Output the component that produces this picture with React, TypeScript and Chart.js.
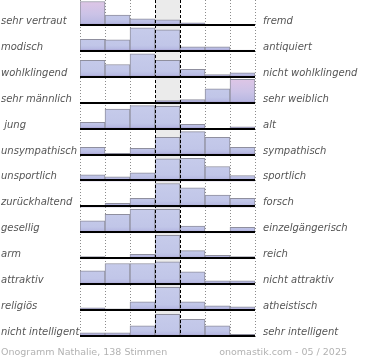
import React, { useEffect, useRef } from 'react';
import { Chart, registerables } from 'chart.js';

Chart.register(...registerables);

const bins = ['1', '2', '3', '4', '5', '6', '7'];

const leftLabels = [
  'sehr vertraut', 'modisch', 'wohlklingend', 'sehr männlich', ' jung', 'unsympathisch',
  'unsportlich', 'zurückhaltend', 'gesellig', 'arm', 'attraktiv', 'religiös', 'nicht intelligent',
];
const rightLabels = [
  'fremd', 'antiquiert', 'nicht wohlklingend', 'sehr weiblich', 'alt', 'sympathisch',
  'sportlich', 'forsch', 'einzelgängerisch', 'reich', 'nicht attraktiv', 'atheistisch', 'sehr intelligent',
];

const row01 = [30, 11, 7, 6, 3, 0, 0];
const row02 = [12.5, 12, 24, 22, 5, 5, 1.7];
const row03 = [17.5, 13.3, 24, 17.6, 8.5, 3.2, 5];
const row04 = [0, 0, 0, 3, 4, 15, 28];
const row05 = [7.3, 20.7, 24, 23.3, 5.3, 0.8, 2.7];
const row06 = [8.3, 2.3, 7.3, 18.3, 24, 18.3, 8.3];
const row07 = [6.7, 4.7, 8.7, 22.7, 23.3, 15, 6];
const row08 = [1.7, 4, 9, 24, 19.6, 12.3, 9];
const row09 = [12.6, 19, 24, 24, 7.3, 1.6, 6];
const row10 = [2.6, 1.6, 5, 24, 8.6, 4, 2.6];
const row11 = [14.3, 21.7, 21.7, 23.3, 13.3, 4.3, 4.3];
const row12 = [3.3, 2.3, 9.3, 23.7, 9.3, 5.3, 4.3];
const row13 = [4.3, 4.3, 11.3, 22.7, 17.7, 11.3, 2.7];

const rows = [row01, row02, row03, row04, row05, row06, row07, row08, row09, row10, row11, row12, row13];

const CAP = 24.5;
const AXIS_MAX = 26;

const footerLeft = 'Onogramm Nathalie, 138 Stimmen';
const footerRight = 'onomastik.com - 05 / 2025';

const FONT = '"DejaVu Sans", Verdana, sans-serif';

export default function App() {
  const ref = useRef<HTMLCanvasElement>(null);

  useEffect(() => {
    document.body.style.margin = '0';
    const canvas = ref.current!;

    const yScales: any = {};
    rows.forEach((_, i) => {
      yScales['y' + i] = {
        type: 'linear',
        min: 0,
        max: AXIS_MAX,
        display: false,
        position: 'right',
        stack: 'rows',
        stackWeight: 1,
        offset: false,
      };
    });

    const colorFor = (c: any) => {
      if (c.type !== 'data') return '#c4c9e9';
      const chart = c.chart;
      const sc = chart.scales['y' + c.datasetIndex];
      if (!sc || !isFinite(sc.bottom) || !isFinite(sc.top) || sc.bottom === sc.top) return '#c4c9e9';
      const over = rows[c.datasetIndex][c.dataIndex] > CAP;
      const g = chart.ctx.createLinearGradient(0, sc.bottom, 0, sc.top);
      if (over) {
        g.addColorStop(0, '#9a8bc3');
        g.addColorStop(0.12, '#bab9e2');
        g.addColorStop(0.45, '#cbc3e7');
        g.addColorStop(1, '#e0c6e6');
      } else {
        g.addColorStop(0, '#9a8bc3');
        g.addColorStop(0.12, '#b8bbe3');
        g.addColorStop(0.25, '#c1c6e8');
        g.addColorStop(1, '#c7cceb');
      }
      return g;
    };

    const datasets = rows.map((r, i) => ({
      label: leftLabels[i],
      data: r.map((v) => Math.min(v, CAP)),
      yAxisID: 'y' + i,
      xAxisID: 'x',
      grouped: false,
      backgroundColor: colorFor,
      borderColor: '#8f8f9e',
      borderWidth: { top: 1, left: 1, right: 1, bottom: 0 },
      borderSkipped: 'start',
      barPercentage: 1,
      categoryPercentage: 1,
    }));

    const edgesOf = (chart: any) => {
      const x = chart.scales.x;
      const w = x.getPixelForValue(1) - x.getPixelForValue(0);
      const e = bins.map((_, k) => x.getPixelForValue(k) - w / 2);
      e.push(x.getPixelForValue(bins.length - 1) + w / 2);
      return e;
    };

    const decor = {
      id: 'decor',
      beforeDatasetsDraw(chart: any) {
        const { ctx, chartArea: a } = chart;
        const edges = edgesOf(chart);
        const mid = Math.floor(bins.length / 2);
        ctx.save();
        ctx.fillStyle = '#ebebeb';
        ctx.fillRect(edges[mid], a.top, edges[mid + 1] - edges[mid], a.bottom - a.top);
        ctx.strokeStyle = '#8c8c8c';
        ctx.lineWidth = 1;
        ctx.setLineDash([1, 2]);
        edges.forEach((e: number, k: number) => {
          if (k === mid || k === mid + 1) return;
          const px = Math.round(e) + 0.5;
          ctx.beginPath();
          ctx.moveTo(px, a.top);
          ctx.lineTo(px, a.bottom + 2);
          ctx.stroke();
        });
        ctx.restore();
      },
      afterDatasetsDraw(chart: any) {
        const { ctx, chartArea: a } = chart;
        const edges = edgesOf(chart);
        const mid = Math.floor(bins.length / 2);
        ctx.save();
        ctx.strokeStyle = '#000';
        ctx.lineWidth = 1;
        ctx.setLineDash([3, 2]);
        [edges[mid], edges[mid + 1]].forEach((e: number) => {
          const px = Math.round(e) + 0.5;
          ctx.beginPath();
          ctx.moveTo(px, a.top);
          ctx.lineTo(px, a.bottom);
          ctx.stroke();
        });
        ctx.setLineDash([]);
        ctx.font = 'italic 10px ' + FONT;
        ctx.textBaseline = 'alphabetic';
        rows.forEach((_, i) => {
          const sc = chart.scales['y' + i];
          const b = Math.round(sc.bottom);
          ctx.strokeStyle = '#000';
          ctx.lineWidth = 2;
          ctx.beginPath();
          ctx.moveTo(a.left, b - 1);
          ctx.lineTo(a.right, b - 1);
          ctx.stroke();
          ctx.fillStyle = '#555';
          ctx.textAlign = 'left';
          ctx.fillText(leftLabels[i], 1, b - 2);
          ctx.fillText(rightLabels[i], a.right + 8, b - 2);
        });
        ctx.font = '9.5px ' + FONT;
        ctx.fillStyle = '#b2b2b2';
        ctx.textAlign = 'left';
        ctx.fillText(footerLeft, 1, 355);
        ctx.textAlign = 'right';
        ctx.fillText(footerRight, 347, 355);
        ctx.restore();
      },
    };

    const chart = new Chart(canvas, {
      type: 'bar',
      data: { labels: bins, datasets: datasets as any },
      options: {
        responsive: false,
        animation: false,
        devicePixelRatio: 1,
        events: [],
        layout: { padding: { left: 80, right: 115, top: 0, bottom: 23 } },
        plugins: { legend: { display: false }, tooltip: { enabled: false }, title: { display: false } },
        scales: {
          x: { type: 'category', display: false, offset: true, grid: { display: false } },
          ...yScales,
        },
      } as any,
      plugins: [decor],
    });

    return () => chart.destroy();
  }, []);

  return <canvas ref={ref} width={370} height={360} style={{ display: 'block' }} />;
}
